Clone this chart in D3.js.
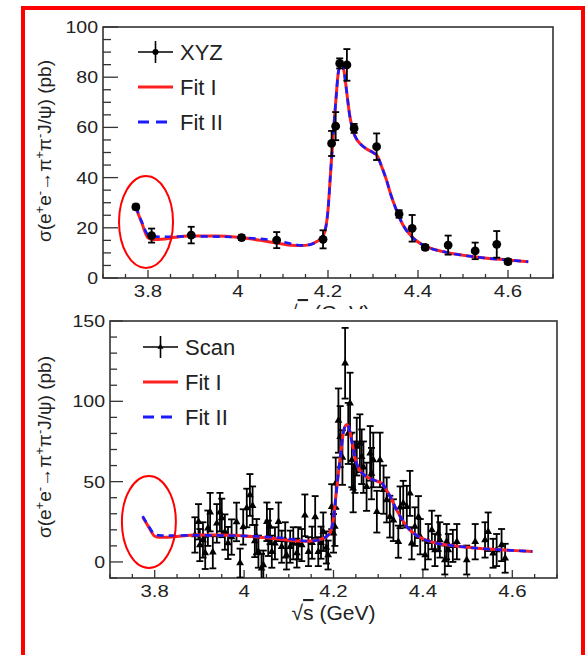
<!DOCTYPE html>
<html>
<head>
<meta charset="utf-8">
<script src="https://cdn.jsdelivr.net/npm/d3@7"></script>
<style>
  body { margin: 0; background: #fff; }
  svg text { font-family: "Liberation Sans", Arial, sans-serif; fill: #222; }
</style>
</head>
<body>
<svg id="chart" width="585" height="655"></svg>
<script>
// ---- data ----
const xTicks = [3.8, 4, 4.2, 4.4, 4.6]
const yTicksTop = [0, 20, 40, 60, 80, 100]
const yTicksBottom = [0, 50, 100, 150]
const legendTop = ["XYZ", "Fit I", "Fit II"]
const legendBottom = ["Scan", "Fit I", "Fit II"]

// XYZ data points (top panel)
const xyzE     = [3.773,3.808,3.896,4.008,4.086,4.189,4.208,4.217,4.226,4.242,4.258,4.308,4.358,4.387,4.416,4.467,4.527,4.575,4.600]
const xyzSigma = [28.3, 16.9, 17.1, 16.1, 15.1, 15.4, 53.6, 60.5, 85.5, 84.9, 59.6, 52.3, 25.5, 19.8, 12.2, 13.1, 10.8, 13.4, 6.5]
const xyzErr   = [1.0,  2.8,  3.3,  1.0,  3.2,  3.6,  5.0,  5.6,  2.0,  6.3,  1.8,  5.3,  1.5,  5.3,  1.0,  3.8,  3.3,  5.3,  1.0]

// scan data points (bottom panel)
const scanE = [3.890,3.898,3.901,3.908,3.913,3.919,3.924,3.930,3.939,3.946,3.950,3.957,3.964,3.972,3.983,3.991,3.998,4.006,4.013,4.019,
               4.024,4.028,4.032,4.039,4.043,4.051,4.054,4.058,4.062,4.069,4.077,4.084,4.092,4.095,4.103,4.110,4.118,4.121,4.129,4.136,
               4.144,4.152,4.159,4.166,4.172,4.177,4.184,4.188,4.196,4.200,4.203,4.205,4.211,4.215,4.220,4.226,4.233,4.237,4.241,4.244,
               4.248,4.252,4.259,4.263,4.267,4.274,4.282,4.285,4.289,4.297,4.304,4.312,4.319,4.326,4.334,4.345,4.349,4.356,4.364,4.371,
               4.375,4.382,4.390,4.394,4.405,4.412,4.420,4.427,4.434,4.438,4.449,4.453,4.457,4.467,4.476,4.498,4.517,4.539,4.546,4.557,
               4.565,4.576,4.584]
const scanSigma = [16.8,25,10.5,13.7,5.6,21,31,6,24,31,27.4,18.6,11.8,15.5,24.9,-0.7,21.8,33.6,41.7,35,
                   13,15.7,6.4,-4,-1.9,25,14.7,22,6.4,11.6,25,9.5,13.7,4.3,9.5,11.6,5.5,11.6,10.5,29,
                   6.4,12,28,6.4,12,18.8,9,4.3,34.4,17.8,22,49,88,78,65,123.7,80,98.8,63.5,45.9,
                   59,71.8,73.9,65.5,59,46.8,67.6,55,63.5,31.3,63.5,45,38.6,28.2,26,12.6,34,36.5,34.4,42.7,
                   11.6,22,28,15.7,4.3,12.6,19.9,7.4,17.8,13.7,1.2,12.6,7.4,10,12.6,1.2,12.6,13.7,18.8,5.4,
                   7.4,10.5,2.3]
const scanErr = [11,11,10,11,10,11,12,10,12,12,12,11,10,11,12,9,11,12,13,12,
                 10,11,10,9,9,12,11,11,10,10,12,10,11,9,10,10,9,10,10,13,
                 9,10,13,9,10,12,10,9,14,12,12,16,20,19,17,22,19,19,17,15,
                 16,18,18,17,16,15,17,16,17,13,17,15,14,13,13,10,13,14,13,14,
                 10,12,13,11,9,11,12,10,11,11,9,11,10,10,11,9,11,11,12,9,
                 10,10,9]

// fit curves (same curves on both panels)
const fitE = [3.773,3.786,3.800,3.810,3.830,3.860,3.890,3.950,4.000,4.050,4.090,4.120,4.140,4.160,4.175,4.190,4.200,4.205,4.212,4.218,4.223,
              4.230,4.236,4.241,4.248,4.255,4.263,4.271,4.285,4.300,4.310,4.320,4.330,4.340,4.350,4.367,4.390,4.419,4.464,4.523,4.597,4.645]
const fit1 = [28.0,22.0,16.0,15.3,15.4,16.2,16.7,16.7,16.2,15.0,13.8,13.0,12.9,13.3,14.5,17.0,27,40,58,72,82,
              85.5,82,75,65,59,55.5,53.6,51.5,50,48.5,44,39,33,28,21,15.8,12.5,10.2,8.5,7.2,6.5]
const fit2 = [28.5,22.5,17.2,16.6,16.4,16.5,16.6,16.5,16.2,15.6,14.8,13.6,13.0,13.3,14.5,17.2,27,40,58,72,82,
              85.5,82,75,65,59,55.5,53.6,51.5,50,48.5,44,39,33,28,21,15.8,12.5,10.2,8.5,7.2,6.5]

// ---- layout ----
const svg = d3.select("#chart")
svg.append("rect").attr("width", 585).attr("height", 655).attr("fill", "#fff")

const panels = [
  { name: "top", left: 103, right: 553, top: 27, bottom: 278, yDomain: [0, 100], yTicks: yTicksTop, yMinor: 20,
    yMajorLen: 15, yMinorLen: 8, yTitleY: 151, legend: legendTop, legX: 138, legY: 52, legStep: 35,
    ellipse: [3.7956, 22.3], marker: "circle", E: xyzE, S: xyzSigma, Err: xyzErr },
  { name: "bottom", left: 110, right: 557, top: 321, bottom: 578, yDomain: [-10, 150], yTicks: yTicksBottom, yMinor: 16,
    yMajorLen: 13, yMinorLen: 7, yTitleY: 447, legend: legendBottom, legX: 143, legY: 347, legStep: 35,
    ellipse: [3.787, 24.9], marker: "triangle", E: scanE, S: scanSigma, Err: scanErr }
]

function txt(g, x, y, s, anchor, size, sx) {
  return g.append("text")
    .attr("transform", `translate(${x},${y}) scale(${sx || 1},1)`)
    .attr("text-anchor", anchor).style("font-size", size + "px").text(s)
}

function xTitle(g, cx, y) {
  const t = g.append("text").attr("x", cx).attr("y", y).attr("text-anchor", "middle")
    .style("font-size", "21px")
  t.append("tspan").text("√")
  t.append("tspan").style("text-decoration", "overline").text("s")
  t.append("tspan").text(" (GeV)")
}

function yTitle(g, x, cy) {
  const t = g.append("text").attr("transform", `translate(${x},${cy}) rotate(-90)`)
    .attr("text-anchor", "middle").style("font-size", "19px")
  const parts = [["σ(e"], ["+", 1], ["e"], ["-", 1], ["→π"], ["+", 1], ["π"], ["-", 1], ["J/ψ) (pb)"]]
  parts.forEach(([s, sup], i) => {
    const sp = t.append("tspan").text(s)
    if (sup) sp.attr("dy", -7).style("font-size", "13px")
    else sp.attr("dy", i > 0 && parts[i - 1][1] ? 7 : 0)
  })
}

panels.forEach((p, pi) => {
  const g = svg.append("g")
  if (pi === 1) {
    // the lower panel is pasted over the top panel's x title
    g.append("rect").attr("x", 26).attr("y", 309).attr("width", 555).attr("height", 346).attr("fill", "#fff")
  }
  const x = d3.scaleLinear().domain([3.7, 4.7]).range([p.left, p.right])
  const y = d3.scaleLinear().domain(p.yDomain).range([p.bottom, p.top])

  const clipId = "clip-" + p.name
  g.append("clipPath").attr("id", clipId).append("rect")
    .attr("x", p.left).attr("y", p.top).attr("width", p.right - p.left).attr("height", p.bottom - p.top)

  // ticks (inward, ROOT style)
  const tk = g.append("g").attr("stroke", "#333").attr("stroke-width", 1.3)
  x.ticks(20).forEach(v => {
    const major = xTicks.some(t => Math.abs(t - v) < 1e-6)
    tk.append("line").attr("x1", x(v)).attr("x2", x(v))
      .attr("y1", p.bottom).attr("y2", p.bottom - (major ? 8 : 4))
  })
  y.ticks(p.yMinor).forEach(v => {
    const major = p.yTicks.includes(v)
    tk.append("line").attr("y1", y(v)).attr("y2", y(v))
      .attr("x1", p.left).attr("x2", p.left + (major ? p.yMajorLen : p.yMinorLen))
  })
  xTicks.forEach(v => txt(g, x(v), p.bottom + 19, d3.format("")(v), "middle", 17, 1.2))
  p.yTicks.forEach(v => txt(g, p.left - 5, y(v) + 6, v, "end", 17, 1.15))

  // frame
  g.append("rect").attr("x", p.left).attr("y", p.top).attr("width", p.right - p.left).attr("height", p.bottom - p.top)
    .attr("fill", "none").attr("stroke", "#333").attr("stroke-width", 1.6)

  // data
  const data = p.E.map((e, i) => ({ e, s: p.S[i], err: p.Err[i] }))
  const dg = g.append("g").attr("clip-path", `url(#${clipId})`)
  const drawData = () => {
    const bars = dg.append("g").attr("stroke", "#000").attr("stroke-width", 1.8)
    data.forEach(d => {
      const cx = x(d.e), y0 = y(d.s - d.err), y1 = y(d.s + d.err)
      bars.append("line").attr("x1", cx).attr("x2", cx).attr("y1", y0).attr("y2", y1)
      bars.append("line").attr("x1", cx - 3.5).attr("x2", cx + 3.5).attr("y1", y0).attr("y2", y0)
      bars.append("line").attr("x1", cx - 3.5).attr("x2", cx + 3.5).attr("y1", y1).attr("y2", y1)
    })
    if (p.marker === "circle") {
      dg.selectAll("circle.pt").data(data).join("circle").attr("class", "pt")
        .attr("cx", d => x(d.e)).attr("cy", d => y(d.s)).attr("r", 4.4).attr("fill", "#000")
    } else {
      dg.selectAll("path.pt").data(data).join("path").attr("class", "pt")
        .attr("transform", d => `translate(${x(d.e)},${y(d.s)})`)
        .attr("d", d3.symbol(d3.symbolTriangle, 26)).attr("fill", "#000")
    }
  }
  const line = d3.line().x(d => x(d[0])).y(d => y(d[1])).curve(d3.curveMonotoneX)
  const drawFits = () => {
    dg.append("path").attr("d", line(fitE.map((e, i) => [e, fit1[i]])))
      .attr("fill", "none").attr("stroke", "#ff2020").attr("stroke-width", 3)
    dg.append("path").attr("d", line(fitE.map((e, i) => [e, fit2[i]])))
      .attr("fill", "none").attr("stroke", "#1a1aff").attr("stroke-width", 2.6).attr("stroke-dasharray", "7,5")
  }
  if (pi === 0) { drawFits(); drawData() } else { drawData(); drawFits() }

  // annotation ellipse
  g.append("ellipse").attr("cx", x(p.ellipse[0])).attr("cy", y(p.ellipse[1])).attr("rx", 27).attr("ry", 46)
    .attr("fill", "none").attr("stroke", "#ff0000").attr("stroke-width", 2)

  // legend
  const lg = g.append("g")
  p.legend.forEach((name, i) => {
    const ly = p.legY + i * p.legStep
    const x0 = p.legX, x1 = p.legX + 35
    if (i === 0) {
      lg.append("line").attr("x1", x0).attr("x2", x1).attr("y1", ly).attr("y2", ly).attr("stroke", "#000").attr("stroke-width", 1.6)
      lg.append("line").attr("x1", (x0 + x1) / 2).attr("x2", (x0 + x1) / 2).attr("y1", ly - 11).attr("y2", ly + 11)
        .attr("stroke", "#000").attr("stroke-width", 1.6)
      if (p.marker === "circle") lg.append("circle").attr("cx", (x0 + x1) / 2).attr("cy", ly).attr("r", 3).attr("fill", "#000")
      else lg.append("path").attr("transform", `translate(${(x0 + x1) / 2},${ly})`).attr("d", d3.symbol(d3.symbolTriangle, 16))
    } else if (i === 1) {
      lg.append("line").attr("x1", x0).attr("x2", x1).attr("y1", ly).attr("y2", ly).attr("stroke", "#ff2020").attr("stroke-width", 3)
    } else {
      lg.append("line").attr("x1", x0).attr("x2", x1).attr("y1", ly).attr("y2", ly).attr("stroke", "#1a1aff")
        .attr("stroke-width", 3).attr("stroke-dasharray", "11,7")
    }
    txt(lg, x1 + 7, ly + 8, name, "start", 22, 1)
  })

  // axis titles
  xTitle(g, (p.left + p.right) / 2, p.bottom + 42)
  yTitle(g, 51, p.yTitleY)
})

// outer red frame (open at the bottom edge of the image)
svg.append("rect").attr("x", 23).attr("y", 8).attr("width", 560).attr("height", 700)
  .attr("fill", "none").attr("stroke", "#ff0000").attr("stroke-width", 4)
</script>
</body>
</html>
